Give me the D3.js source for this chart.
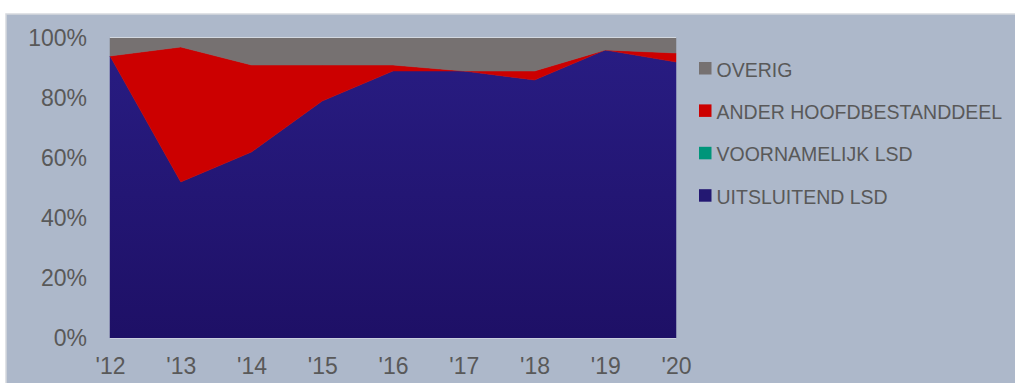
<!DOCTYPE html>
<html><head><meta charset="utf-8">
<script src="https://cdn.jsdelivr.net/npm/d3@7/dist/d3.min.js"></script>
<style>body{margin:0;background:#fff}svg{display:block}</style>
</head><body>
<svg id="c" width="1015" height="383"></svg>
<script>
const years = ["'12","'13","'14","'15","'16","'17","'18","'19","'20"];
const uitsluitend = [94,52,62,79,89,89,86,96,92];
const voornamelijk = [0,0,0,0,0,0,0,0,0];
const ander = [0,45,29,12,2,0,3,0,3];
const overig = [6,3,9,9,9,11,11,4,5];
const seriesNames = ["UITSLUITEND LSD","VOORNAMELIJK LSD","ANDER HOOFDBESTANDDEEL","OVERIG"];
const seriesColors = ["url(#blueGrad)","#00957a","#cc0000","#767171"];
const legendColors = ["#231872","#00957a","#cc0000","#767171"];
const yTicks = [0,20,40,60,80,100];

const svg = d3.select("#c");
const defs = svg.append("defs");
const g = defs.append("linearGradient").attr("id","blueGrad").attr("x1",0).attr("y1",0).attr("x2",0).attr("y2",1);
g.append("stop").attr("offset","0%").attr("stop-color","#281c82");
g.append("stop").attr("offset","100%").attr("stop-color","#1e1066");

svg.append("rect").attr("x",6).attr("y",14).attr("width",1010).attr("height",370)
  .attr("fill","#adb8ca").attr("stroke","#d6d9de").attr("stroke-width",1.5);

const x = d3.scalePoint().domain(years).range([110,676]);
const y = d3.scaleLinear().domain([0,100]).range([338,38]);

const table = years.map((yr,i)=>({year:yr, s0:uitsluitend[i], s1:voornamelijk[i], s2:ander[i], s3:overig[i]}));
const stack = d3.stack().keys(["s0","s1","s2","s3"]);
const layers = stack(table);
const area = d3.area().x(d=>x(d.data.year)).y0(d=>y(d[0])).y1(d=>y(d[1]));

svg.append("g").selectAll("path").data(layers).join("path")
  .attr("d",area).attr("fill",(d,i)=>seriesColors[i])
  .attr("stroke",(d,i)=>i===1?"none":seriesColors[i]).attr("stroke-width",0.5);

// plot frame edges
svg.append("line").attr("x1",110).attr("x2",676).attr("y1",37.5).attr("y2",37.5).attr("stroke","#d3d8e0").attr("stroke-width",1);
svg.append("line").attr("x1",110).attr("x2",676).attr("y1",338.5).attr("y2",338.5).attr("stroke","#c9cede").attr("stroke-width",1);

const font = "'Liberation Sans', Arial, sans-serif";
const yAxis = d3.axisLeft(y).tickValues(yTicks).tickFormat(d=>d+"%").tickSize(0).tickPadding(23);
const ya = svg.append("g").attr("transform","translate(110,0)").call(yAxis);
ya.select(".domain").remove();
ya.selectAll("text").attr("font-family",font).attr("font-size",23).attr("fill","#595959");

const xAxis = d3.axisBottom(x).tickSize(0).tickPadding(20);
const xa = svg.append("g").attr("transform","translate(0,338)").call(xAxis);
xa.select(".domain").remove();
xa.selectAll("text").attr("font-family",font).attr("font-size",23).attr("fill","#595959");

const legendOrder = [3,2,1,0];
const lg = svg.append("g");
legendOrder.forEach((si,k)=>{
  const cy = 69.5 + k*42.4;
  lg.append("rect").attr("x",699).attr("y",cy-7.5).attr("width",12.5).attr("height",12.5).attr("fill",legendColors[si]);
  lg.append("text").attr("x",716.5).attr("y",cy).attr("dy","0.36em")
    .attr("font-family",font).attr("font-size",19.5).attr("fill","#595959")
    .text(seriesNames[si]);
});
</script>
</body></html>
